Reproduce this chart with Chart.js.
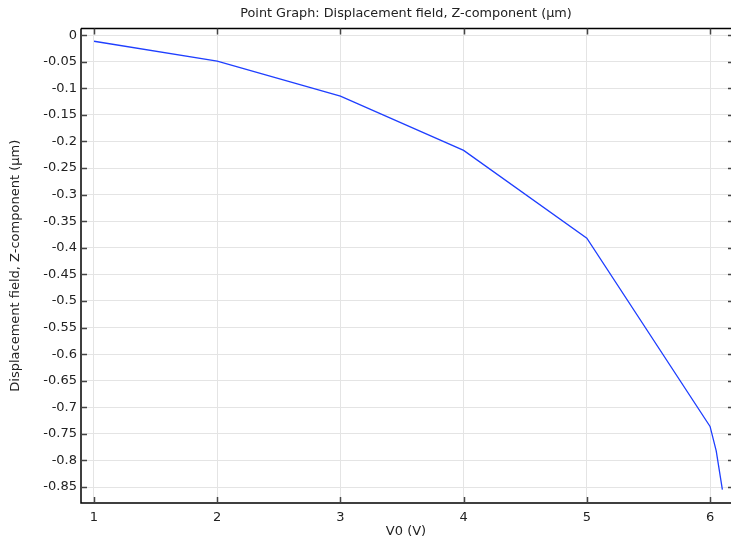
<!DOCTYPE html>
<html>
<head>
<meta charset="utf-8">
<script src="https://cdn.jsdelivr.net/npm/chart.js@4/dist/chart.umd.min.js"></script>
<style>
    html, body { margin: 0; padding: 0; background: #fff; }
    #chart { display: block; }
</style>
</head>
<body>
<canvas id="chart" width="731" height="541"></canvas>
<script>
// Data
const voltages = [1, 2, 3, 4, 5, 6, 6.05, 6.1];
const displacement = [-0.0115, -0.049, -0.1147, -0.2168, -0.382, -0.736, -0.782, -0.855];

const xTicks = [1, 2, 3, 4, 5, 6];
const yTicks = [0, -0.05, -0.1, -0.15, -0.2, -0.25, -0.3, -0.35, -0.4, -0.45, -0.5,
    -0.55, -0.6, -0.65, -0.7, -0.75, -0.8, -0.85];
const yTickLabels = ['0', '-0.05', '-0.1', '-0.15', '-0.2', '-0.25', '-0.3', '-0.35', '-0.4',
    '-0.45', '-0.5', '-0.55', '-0.6', '-0.65', '-0.7', '-0.75', '-0.8', '-0.85'];

const chartTitle = 'Point Graph: Displacement field, Z-component (µm)';

const font = 'DejaVu Sans';
Chart.defaults.font.family = font;
Chart.defaults.font.size = 13;
Chart.defaults.color = '#222';

// Frame with inward ticks, plus title centred over the plot area
const framePlugin = {
    id: 'frame',
    afterDraw(chart) {
        const ctx = chart.ctx;
        const area = chart.chartArea;
        const xs = chart.scales.x;
        const ys = chart.scales.y;
        ctx.save();
        ctx.strokeStyle = '#000';
        ctx.lineWidth = 1.5;
        ctx.beginPath();
        ctx.moveTo(area.left, area.top);
        ctx.lineTo(area.right, area.top);
        ctx.moveTo(area.left, area.top);
        ctx.lineTo(area.left, area.bottom);
        ctx.lineTo(area.right, area.bottom);
        ctx.stroke();

        ctx.lineWidth = 1.5;
        ctx.strokeStyle = '#444';
        ctx.beginPath();
        xTicks.forEach(v => {
            const px = Math.round(xs.getPixelForValue(v)) + 0.5;
            ctx.moveTo(px, area.bottom);
            ctx.lineTo(px, area.bottom - 6);
            ctx.moveTo(px, area.top);
            ctx.lineTo(px, area.top + 6);
        });
        yTicks.forEach(v => {
            const py = Math.round(ys.getPixelForValue(v)) + 0.5;
            ctx.moveTo(area.left, py);
            ctx.lineTo(area.left + 6, py);
            ctx.moveTo(area.right, py);
            ctx.lineTo(area.right - 3, py);
        });
        ctx.stroke();

        ctx.fillStyle = '#222';
        ctx.font = '12.8px "' + font + '"';
        ctx.textAlign = 'center';
        ctx.textBaseline = 'middle';
        ctx.fillText(chartTitle, (area.left + area.right) / 2, 14);
        ctx.restore();
    }
};

new Chart(document.getElementById('chart'), {
    type: 'line',
    data: {
        datasets: [{
            data: voltages.map((v, i) => ({ x: v, y: displacement[i] })),
            borderColor: '#1f3fff',
            borderWidth: 1.3,
            pointRadius: 0,
            tension: 0,
            fill: false
        }]
    },
    options: {
        responsive: false,
        animation: false,
        layout: { padding: { left: 0, right: 0, top: 28.5, bottom: 0 } },
        plugins: {
            legend: { display: false },
            tooltip: { enabled: false },
            title: { display: false }
        },
        scales: {
            x: {
                type: 'linear',
                min: 0.8945,
                max: 6.17,
                afterBuildTicks(scale) {
                    scale.ticks = xTicks.map(v => ({ value: v }));
                },
                afterFit(scale) {
                    scale.height = 38;
                },
                ticks: {
                    padding: 7,
                    maxRotation: 0,
                    callback: v => String(v)
                },
                grid: { color: '#e4e4e4', lineWidth: 1, drawTicks: false },
                border: { display: false },
                title: {
                    display: true,
                    text: 'V0 (V)',
                    font: { family: font, size: 13 },
                    padding: { top: 0, bottom: 2 }
                }
            },
            y: {
                type: 'linear',
                min: -0.88,
                max: 0.0125,
                afterBuildTicks(scale) {
                    scale.ticks = yTicks.map(v => ({ value: v }));
                },
                afterFit(scale) {
                    scale.width = 81;
                },
                ticks: {
                    padding: 4,
                    callback: (v) => {
                        const i = yTicks.findIndex(t => Math.abs(t - v) < 1e-9);
                        return i >= 0 ? yTickLabels[i] : '';
                    }
                },
                grid: { color: '#e4e4e4', lineWidth: 1, drawTicks: false },
                border: { display: false },
                title: {
                    display: true,
                    text: 'Displacement field, Z-component (µm)',
                    font: { family: font, size: 13 },
                    padding: { top: 8, bottom: 0 }
                }
            }
        }
    },
    plugins: [framePlugin]
});
</script>
</body>
</html>
